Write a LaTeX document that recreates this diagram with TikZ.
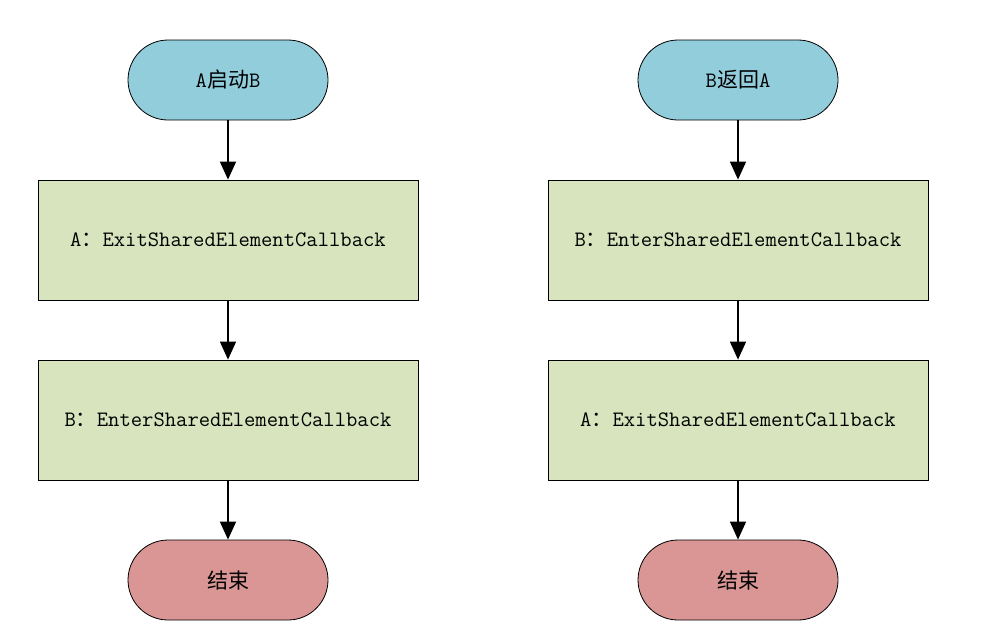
\documentclass[tikz,border=0pt]{standalone}
\usepackage{fontspec}
\newfontfamily\cjk{Noto Sans CJK SC}
\usetikzlibrary{arrows.meta}
\definecolor{termblue}{RGB}{146,205,220}
\definecolor{stepgreen}{RGB}{215,228,189}
\definecolor{termred}{RGB}{217,150,148}
\newcommand{\mn}[1]{{\ttfamily\fontsize{22}{24}\selectfont #1}}
\newcommand{\zh}[1]{{\cjk\fontsize{21}{24}\selectfont #1}}
\begin{document}
\begin{tikzpicture}[x=1pt,y=-1pt,
  term/.style={draw=black,line width=0.8pt,rounded corners=40pt,minimum width=200pt,minimum height=80pt,inner sep=0pt},
  stepbox/.style={draw=black,line width=0.8pt,fill=stepgreen,minimum width=380pt,minimum height=120pt,inner sep=0pt},
  flow/.style={line width=1.5pt,-{Triangle[width=16pt,length=18pt]}}]
\useasboundingbox (0,0) rectangle (981,643);
% left column
\node[term,fill=termblue] (ls) at (228,80) {\mn{A}\zh{启动}\mn{B}};
\node[stepbox] (l1) at (228,240) {\mn{A}\zh{：}\mn{ExitSharedElementCallback}};
\node[stepbox] (l2) at (228,420) {\mn{B}\zh{：}\mn{EnterSharedElementCallback}};
\node[term,fill=termred] (le) at (228,580) {\zh{结束}};
% right column
\node[term,fill=termblue] (rs) at (738,80) {\mn{B}\zh{返回}\mn{A}};
\node[stepbox] (r1) at (738,240) {\mn{B}\zh{：}\mn{EnterSharedElementCallback}};
\node[stepbox] (r2) at (738,420) {\mn{A}\zh{：}\mn{ExitSharedElementCallback}};
\node[term,fill=termred] (re) at (738,580) {\zh{结束}};
\draw[flow] (ls) -- (l1);
\draw[flow] (l1) -- (l2);
\draw[flow] (l2) -- (le);
\draw[flow] (rs) -- (r1);
\draw[flow] (r1) -- (r2);
\draw[flow] (r2) -- (re);
\end{tikzpicture}
\end{document}
